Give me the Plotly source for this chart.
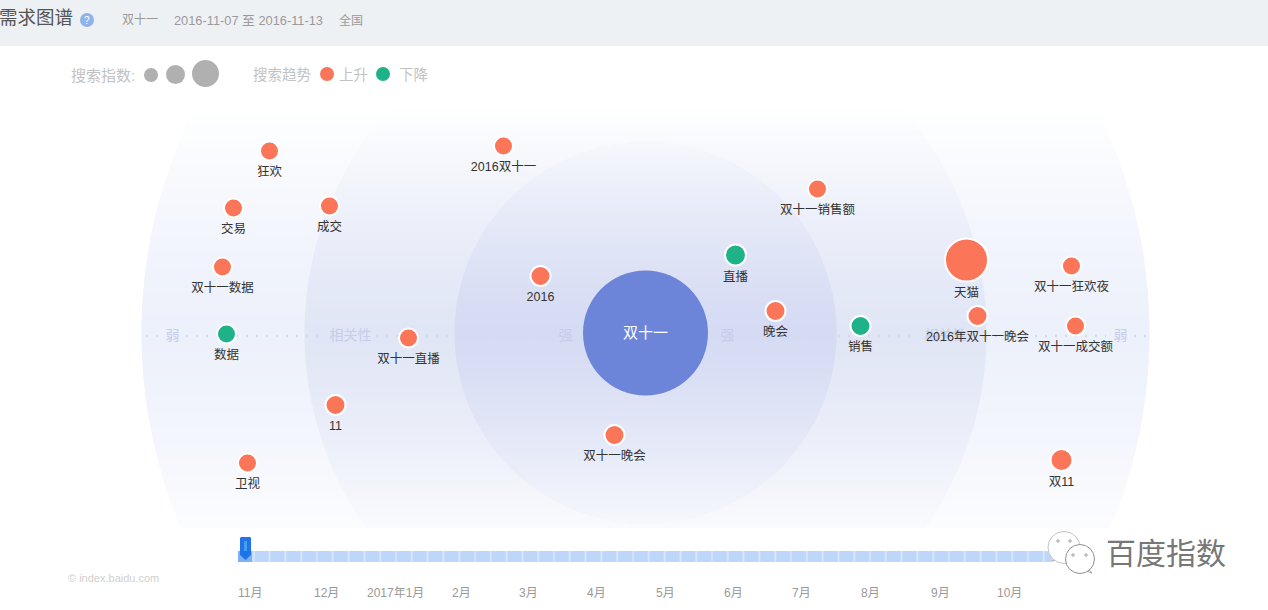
import plotly.graph_objects as go

W, H = 1268, 610
HUB_X, HUB_Y = 645.5, 333   # pixel position of the hub inside the page

# ---------- data (relevance offset from hub, search index) ----------
hub_name = "双十一"
up_names = ["狂欢", "交易", "成交", "双十一数据", "双十一直播", "11", "卫视", "2016双十一", "2016",
            "双十一晚会", "晚会", "双十一销售额", "天猫", "2016年双十一晚会", "双十一狂欢夜", "双十一成交额", "双11"]
up_x = [-376, -412, -316, -423, -237, -310, -398, -142, -105, -31, 130, 172, 321, 332, 426, 430, 416]
up_y = [182, 125, 127, 66, -5, -72, -130, 187, 57, -102, 22, 144, 73, 17, 67, 7, -127]
up_index = [19, 19, 19, 19, 19, 20, 19, 19, 20, 20, 20, 19, 43, 20, 19, 19, 22]

down_names = ["数据", "直播", "销售"]
down_x = [-419, 90, 215]
down_y = [-1, 78, 7]
down_index = [19, 21, 20]

axis_names = ["弱", "相关性", "强", "强", "相关性", "弱"]
axis_x = [-473, -295, -80, 82, 300, 475]
axis_y = [-3, -3, -3, -3, -3, -3]

month_labels = ["11月", "12月", "2017年1月", "2月", "3月", "4月", "5月", "6月", "7月", "8月", "9月", "10月"]
month_px = [250, 326, 395, 461, 528, 596, 665, 733, 802, 871, 940, 1009]

UP, DOWN, HUB = "#fb7558", "#1fb288", "#6c85d8"
FONT = "Liberation Sans, Noto Sans CJK SC, sans-serif"


def fx(x):
    return x / W


def fy(y):
    return 1 - y / H


shapes = []


def rect(x0, y0, x1, y1, color, **kw):
    shapes.append(dict(type="rect", xref="paper", yref="paper", x0=fx(x0), x1=fx(x1), y0=fy(y1), y1=fy(y0),
                       fillcolor=color, line=dict(width=0), layer="below", **kw))


def circle(cx, cy, r, color, line=None, lw=0):
    shapes.append(dict(type="circle", xref="paper", yref="paper", x0=fx(cx - r), x1=fx(cx + r),
                       y0=fy(cy + r), y1=fy(cy - r), fillcolor=color, layer="below",
                       line=dict(color=line or color, width=lw)))


def path(points, color, line=None, lw=0):
    d = "M " + " L ".join(f"{fx(a):.5f},{fy(b):.5f}" for a, b in points) + " Z"
    shapes.append(dict(type="path", xref="paper", yref="paper", path=d, fillcolor=color, layer="below",
                       line=dict(color=line or color, width=lw)))


annotations = []


def label(x, y, s, size, color, anchor="left"):
    annotations.append(dict(xref="paper", yref="paper", x=fx(x), y=fy(y), text=s, showarrow=False,
                            xanchor=anchor, yanchor="middle", borderpad=0,
                            font=dict(family=FONT, size=size, color=color)))


# ---------- relevance rings: opaque horizontal strips fading away from the axis ----------
rings = [(504, (237, 241, 251)), (341, (225, 230, 246)), (191, (213, 219, 243))]
for r, col in rings:
    for top in range(110, 527, 2):
        d = abs(top + 1 - HUB_Y)
        if d >= r:
            continue
        half = (r * r - d * d) ** 0.5
        f = max(0.0, 1 - (d / 226) ** 1.35)
        c = tuple(round(255 + f * (v - 255)) for v in col)
        rect(HUB_X - half, top, HUB_X + half, top + 2, "rgb(%d,%d,%d)" % c)

# ---------- dotted relevance axis ----------
for a, b in [(146, 160), (186, 325), (376, 552), (738, 915), (975, 1106), (1134, 1148)]:
    shapes.append(dict(type="line", xref="paper", yref="paper", x0=fx(a), x1=fx(b), y0=fy(336), y1=fy(336),
                       layer="below", line=dict(color="#d3d9f0", width=2.5, dash="2px,8px")))

# ---------- header ----------
rect(0, 0, W, 46, "#eef1f4")
label(-2, 18, "需求图谱", 18.5, "#555555")
circle(87, 20, 7, "#8fb2ea")
label(87, 20, "?", 10, "#ffffff", "center")
label(121, 20, "双十一", 12, "#9a9a9a")
label(173, 20, "2016-11-07 至 2016-11-13", 12.8, "#9a9a9a")
label(338, 20, "全国", 12, "#9a9a9a")

# ---------- legend ----------
label(70, 75, "搜索指数:", 15, "#c2c2c2")
circle(151, 75, 7, "#b0b0b0")
circle(175.5, 74.5, 9.5, "#b0b0b0")
circle(205.5, 73.5, 13.5, "#b0b0b0")
label(252, 75, "搜索趋势", 14.5, "#c2c2c2")
circle(327, 74, 7, UP)
label(338, 75, "上升", 14.5, "#c2c2c2")
circle(383, 74, 7, DOWN)
label(398, 75, "下降", 14.5, "#c2c2c2")

# ---------- timeline ----------
x = 238.0
while x < 1052:
    rect(x, 551, min(x + 15.8, 1052), 562, "#cfe1fb")
    rect(x + 1.2, 551, min(x + 14.6, 1052), 562, "#bdd7fa")
    x += 15.8
rect(238, 551, 252, 562, "#7fb0f5")
path([(240, 538), (241, 537), (250, 537), (251, 538), (251, 555), (245.5, 560), (240, 555)], "#1f74e8")
rect(244, 541, 247, 551, "#4a9bf3")
for px_x, s in zip(month_px, month_labels):
    label(px_x, 593, s, 12, "#999999", "center")
label(67, 578, "© index.baidu.com", 11, "#d0d0d0")

# ---------- WeChat mark ----------
path([(1056, 556), (1052, 561), (1062, 559)], "#ffffff", "#aaaaaa", 1)
circle(1064, 547.5, 16, "#ffffff", "#c4c4c4", 1)
path([(1086, 566), (1092, 573), (1080, 569)], "#ffffff", "#aaaaaa", 1)
circle(1080, 559, 14.5, "#ffffff", "#8f8f8f", 1)
for cx, cy in [(1058, 541), (1070, 541), (1073, 555), (1086, 555)]:
    circle(cx, cy, 1.2, "#ffffff", "#888888", 0.8)
label(1105, 553, "百度指数", 30, "#777777")

# ---------- marks ----------
fig = go.Figure()
fig.add_trace(go.Scatter(x=axis_x, y=axis_y, mode="text", text=axis_names, textposition="middle center",
                         textfont=dict(family=FONT, size=14, color="#c6cdea"), showlegend=False))
fig.add_trace(go.Scatter(x=[0], y=[0], mode="markers", marker=dict(size=125, color=HUB, opacity=1, line=dict(width=0)),
                         showlegend=False))
fig.add_trace(go.Scatter(x=[0], y=[-1], mode="text", text=[hub_name], textposition="middle center",
                         textfont=dict(family=FONT, size=15, color="#ffffff"), showlegend=False))
for names, xs, ys, idx, col in [(up_names, up_x, up_y, up_index, UP), (down_names, down_x, down_y, down_index, DOWN)]:
    fig.add_trace(go.Scatter(x=xs, y=ys, mode="markers",
                             marker=dict(size=idx, color=col, opacity=1, line=dict(color="#ffffff", width=2)),
                             showlegend=False))
    fig.add_trace(go.Scatter(x=xs, y=[v - s / 2 - 12 for v, s in zip(ys, idx)], mode="text", text=names,
                             textposition="middle center",
                             textfont=dict(family=FONT, size=12.5, color="#333333"), showlegend=False))

fig.update_layout(width=W, height=H, margin=dict(l=0, r=0, t=0, b=0), autosize=False,
                  paper_bgcolor="#ffffff", plot_bgcolor="rgba(0,0,0,0)", shapes=shapes, annotations=annotations,
                  hovermode=False,
                  xaxis=dict(range=[-HUB_X, W - HUB_X], visible=False, fixedrange=True),
                  yaxis=dict(range=[HUB_Y - H, HUB_Y], visible=False, fixedrange=True))
fig.write_html("out.html", config=dict(displayModeBar=False),
               post_script="document.body.style.margin='0';document.body.style.overflow='hidden';")
